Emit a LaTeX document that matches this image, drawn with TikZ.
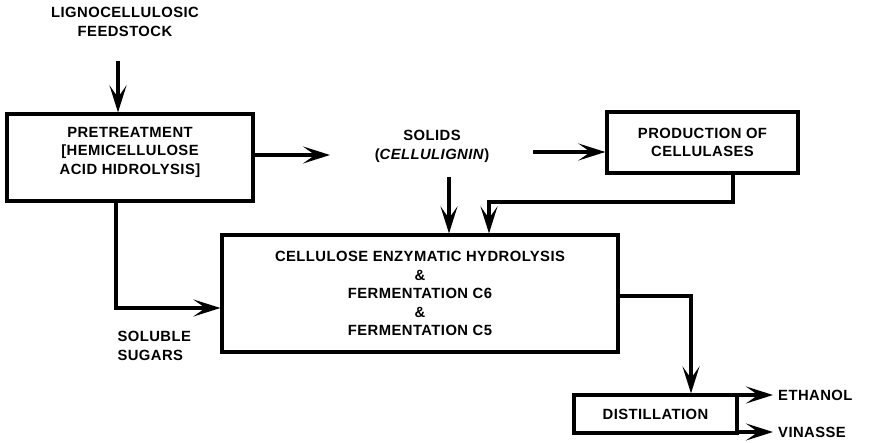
\documentclass[tikz,border=0pt]{standalone}
\usepackage{fontspec}
\setmainfont{Liberation Sans}[LetterSpace=3]
\usetikzlibrary{arrows.meta}

\begin{document}
\begin{tikzpicture}[x=1pt, y=-1pt,
    box/.style={draw, line width=3.2pt, inner sep=0pt},
    lbl/.style={align=center, font=\fontsize{14.8}{18.5}\selectfont\bfseries},
    arr/.style={line width=3.2pt, -{Stealth[length=27pt,width=17pt,inset=12pt]}}]

        \useasboundingbox (0,0) rectangle (870,443);

        %Feedstock
        \node [lbl] (feed) at (125,22) {LIGNOCELLULOSIC\\FEEDSTOCK};
        \coordinate (f1) at (118,61);
        %Pretreatment
        \node [box, minimum width=246, minimum height=87] (pre) at (130,157.5) {};
        \node [lbl] (pretxt) at (130,152) {PRETREATMENT\\{[}HEMICELLULOSE\\ACID HIDROLYSIS{]}};
        %Solids
        \node [lbl] (sol) at (432,146.5) {SOLIDS\\(\textit{CELLULIGNIN})};
        \coordinate (a1) at (330,155);
        \coordinate (a2) at (533,152);
        \coordinate (m1) at (449,177);
        %Cellulases
        \node [box, lbl, minimum width=191, minimum height=61] (prod) at (702.5,142.5) {PRODUCTION OF\\CELLULASES};
        \coordinate (c1) at (733,202);
        \coordinate (c2) at (489,202);
        %Hydrolysis and fermentation
        \node [box, lbl, minimum width=396, minimum height=117] (main) at (420,293.5)
          {CELLULOSE ENZYMATIC HYDROLYSIS\\\&\\FERMENTATION C6\\\&\\FERMENTATION C5};
        \coordinate (s1) at (116,308);
        \node [lbl, anchor=west, align=left] (sug) at (114,346) {SOLUBLE\\SUGARS};
        %Distillation
        \coordinate (d1) at (691,296);
        \node [box, lbl, minimum width=163, minimum height=38] (dist) at (655.5,414) {DISTILLATION};
        \node [lbl, anchor=west, inner sep=5pt] (eth) at (773,395) {ETHANOL};
        \node [lbl, anchor=west, inner sep=5pt] (vin) at (773,432) {VINASSE};

        %Arrows
        \draw [arr] (f1) -- (f1 |- pre.north);
        \draw [arr] (pre.east |- a1) -- (a1);
        \draw [arr] (a2) -- (a2 -| prod.west);
        \draw [arr] (m1) -- (m1 |- main.north);
        \draw [arr] (c1 |- prod.south) -- (c1) -- (c2) -- (c2 |- main.north);
        \draw [arr] (s1 |- pre.south) -- (s1) -- (s1 -| main.west);
        \draw [arr] (d1 -| main.east) -- (d1) -- (d1 |- dist.north);
        \draw [arr] (dist.east |- eth.west) -- (eth.west);
        \draw [arr] (dist.east |- vin.west) -- (vin.west);
      \end{tikzpicture}
\end{document}
